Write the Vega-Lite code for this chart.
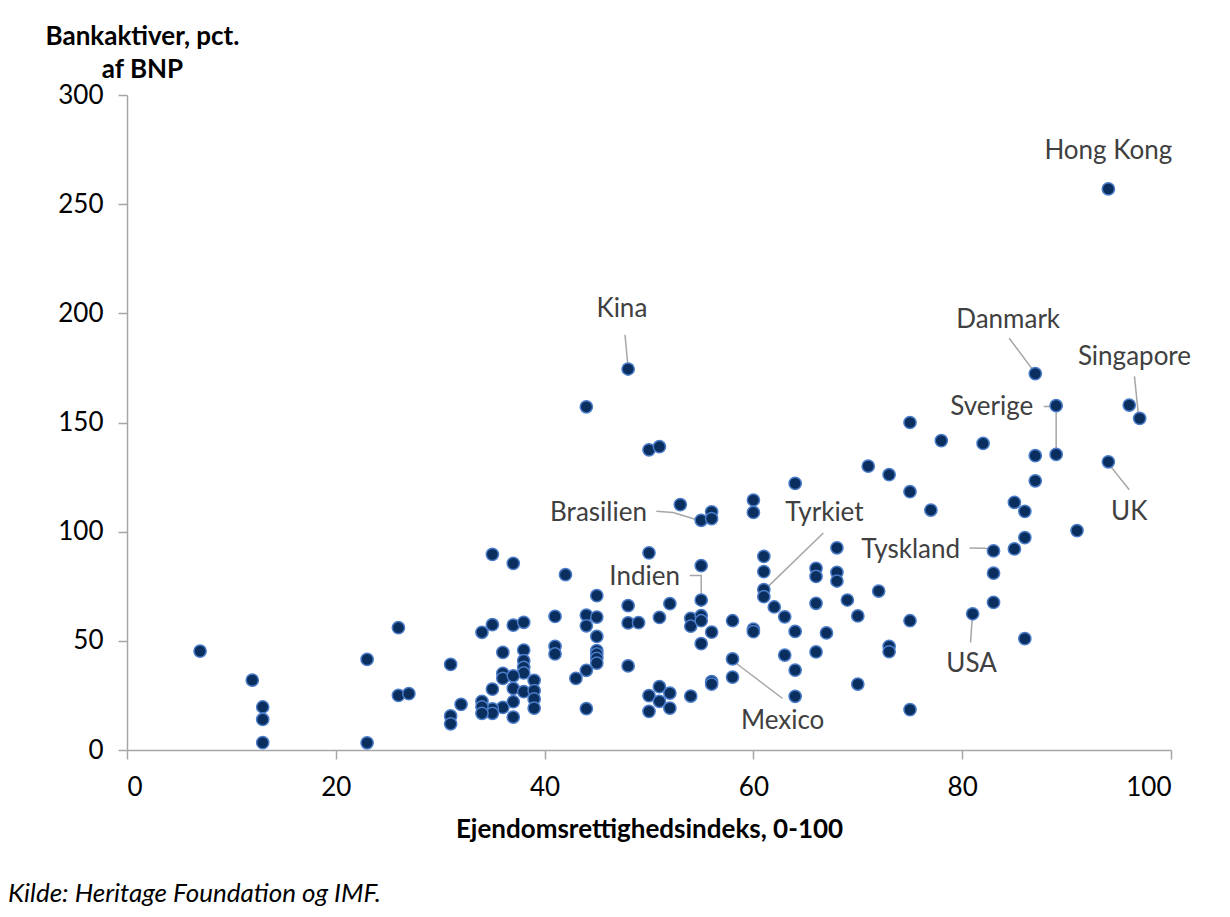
{
  "$schema": "https://vega.github.io/schema/vega-lite/v6.json",
  "width": 1044,
  "height": 655,
  "autosize": {"type": "none"},
  "padding": {"left": 127, "top": 95, "right": 59, "bottom": 167},
  "background": "white",
  "config": {
    "font": "Lato",
    "view": {"stroke": null},
    "axis": {
      "grid": false,
      "domainColor": "#a6a6a6",
      "domainWidth": 1.5,
      "tickColor": "#a6a6a6",
      "tickWidth": 1.5,
      "tickSize": 9,
      "labelFont": "Lato",
      "labelFontSize": 26,
      "labelColor": "#000000",
      "titleFont": "Lato",
      "titleFontSize": 26,
      "titleFontWeight": "bold",
      "titleColor": "#000000"
    }
  },
  "title": {
    "text": "Kilde: Heritage Foundation og IMF.",
    "orient": "bottom",
    "anchor": "start",
    "frame": "group",
    "font": "Lato",
    "fontSize": 26,
    "fontStyle": "italic",
    "fontWeight": "normal",
    "color": "#000000",
    "dx": -119,
    "offset": 39
  },
  "datasets": {
    "points": [
      {"x": 7, "y": 45.3}, {"x": 12, "y": 32}, {"x": 13, "y": 19.7}, {"x": 13, "y": 14}, {"x": 13, "y": 3.4},
      {"x": 23, "y": 41.5}, {"x": 23, "y": 3.3}, {"x": 26, "y": 56}, {"x": 26, "y": 25}, {"x": 27, "y": 25.8},
      {"x": 31, "y": 39.2}, {"x": 31, "y": 15.6}, {"x": 31, "y": 12}, {"x": 32, "y": 20.9}, {"x": 35, "y": 89.6},
      {"x": 37, "y": 85.5}, {"x": 42, "y": 80.3}, {"x": 50, "y": 90.3}, {"x": 55, "y": 84.4}, {"x": 61, "y": 88.7},
      {"x": 61, "y": 81.7}, {"x": 61, "y": 73.5}, {"x": 61, "y": 70.2}, {"x": 62, "y": 65.5}, {"x": 55, "y": 68.7},
      {"x": 45, "y": 70.7}, {"x": 48, "y": 66.1}, {"x": 52, "y": 67}, {"x": 51, "y": 60.7}, {"x": 48, "y": 58.2},
      {"x": 49, "y": 58.3}, {"x": 54, "y": 60.3}, {"x": 54, "y": 56.7}, {"x": 55, "y": 61.5}, {"x": 55, "y": 59.2},
      {"x": 56, "y": 54}, {"x": 55, "y": 48.7}, {"x": 58, "y": 59.2}, {"x": 60, "y": 55.4}, {"x": 60, "y": 54.2},
      {"x": 63, "y": 43.5}, {"x": 58, "y": 41.7}, {"x": 58, "y": 33.4}, {"x": 56, "y": 31.3}, {"x": 56, "y": 30.2},
      {"x": 54, "y": 24.7}, {"x": 51, "y": 29}, {"x": 50, "y": 24.9}, {"x": 52, "y": 26.1}, {"x": 51, "y": 22.3},
      {"x": 52, "y": 19.2}, {"x": 50, "y": 17.7}, {"x": 48, "y": 38.5}, {"x": 44, "y": 18.9}, {"x": 41, "y": 61.2},
      {"x": 41, "y": 47.5}, {"x": 41, "y": 44}, {"x": 44, "y": 61.8}, {"x": 45, "y": 60.9}, {"x": 44, "y": 56.9},
      {"x": 45, "y": 52}, {"x": 45, "y": 45.5}, {"x": 45, "y": 44}, {"x": 45, "y": 42}, {"x": 45, "y": 39.8},
      {"x": 44, "y": 36.5}, {"x": 43, "y": 32.8}, {"x": 34, "y": 53.9}, {"x": 35, "y": 57.4}, {"x": 37, "y": 57.2},
      {"x": 38, "y": 58.5}, {"x": 36, "y": 44.7}, {"x": 38, "y": 45.8}, {"x": 38, "y": 40.9}, {"x": 38, "y": 37.9},
      {"x": 38, "y": 35.3}, {"x": 36, "y": 35.1}, {"x": 36, "y": 32.8}, {"x": 37, "y": 34}, {"x": 37, "y": 28.2},
      {"x": 38, "y": 26.7}, {"x": 35, "y": 27.9}, {"x": 39, "y": 31.9}, {"x": 39, "y": 27.2}, {"x": 39, "y": 23.4},
      {"x": 39, "y": 19.2}, {"x": 37, "y": 22.1}, {"x": 36, "y": 19.5}, {"x": 35, "y": 18.8}, {"x": 35, "y": 16.8},
      {"x": 34, "y": 22.3}, {"x": 34, "y": 19.8}, {"x": 34, "y": 16.8}, {"x": 37, "y": 15.1}, {"x": 63, "y": 61},
      {"x": 64, "y": 54.3}, {"x": 64, "y": 36.6}, {"x": 64, "y": 24.6}, {"x": 66, "y": 83.2}, {"x": 66, "y": 79.5},
      {"x": 68, "y": 92.6}, {"x": 68, "y": 81.4}, {"x": 68, "y": 77.4}, {"x": 66, "y": 67.2}, {"x": 66, "y": 44.9},
      {"x": 67, "y": 53.6}, {"x": 69, "y": 68.7}, {"x": 70, "y": 61.4}, {"x": 70, "y": 30.2}, {"x": 72, "y": 72.8},
      {"x": 73, "y": 47.5}, {"x": 73, "y": 45}, {"x": 75, "y": 59.2}, {"x": 75, "y": 18.5}, {"x": 81, "y": 62.4},
      {"x": 83, "y": 91.2}, {"x": 83, "y": 81}, {"x": 83, "y": 67.6}, {"x": 85, "y": 92.1}, {"x": 86, "y": 97.3},
      {"x": 86, "y": 51}, {"x": 91, "y": 100.5}, {"x": 87, "y": 172.4}, {"x": 89, "y": 157.7}, {"x": 89, "y": 135.4},
      {"x": 96, "y": 158}, {"x": 97, "y": 151.9}, {"x": 94, "y": 132}, {"x": 87, "y": 134.8}, {"x": 87, "y": 123.3},
      {"x": 85, "y": 113.4}, {"x": 86, "y": 109.3}, {"x": 75, "y": 150}, {"x": 78, "y": 141.7}, {"x": 82, "y": 140.4},
      {"x": 71, "y": 130}, {"x": 73, "y": 126.1}, {"x": 75, "y": 118.3}, {"x": 77, "y": 109.9}, {"x": 64, "y": 122.1},
      {"x": 60, "y": 114.5}, {"x": 60, "y": 108.8}, {"x": 48, "y": 174.5}, {"x": 44, "y": 157.2}, {"x": 50, "y": 137.5},
      {"x": 51, "y": 138.9}, {"x": 53, "y": 112.4}, {"x": 55, "y": 105.2}, {"x": 56, "y": 109.1}, {"x": 56, "y": 106},
      {"x": 94, "y": 257}
    ],
    "leaders": [
      {"id": "Kina", "o": 1, "x": 47.7, "y": 190.2}, {"id": "Kina", "o": 2, "x": 48.0, "y": 175.1},
      {"id": "Danmark", "o": 1, "x": 84.5, "y": 188.6}, {"id": "Danmark", "o": 2, "x": 87.0, "y": 172.6},
      {"id": "Singapore", "o": 1, "x": 96.5, "y": 171.1}, {"id": "Singapore", "o": 2, "x": 96.9, "y": 152.5},
      {"id": "Sverige", "o": 1, "x": 87.8, "y": 157.3}, {"id": "Sverige", "o": 2, "x": 89.0, "y": 157.3}, {"id": "Sverige", "o": 3, "x": 89.0, "y": 135.1},
      {"id": "UK", "o": 1, "x": 96.0, "y": 119.2}, {"id": "UK", "o": 2, "x": 93.97, "y": 131.4},
      {"id": "Brasilien", "o": 1, "x": 50.7, "y": 109.3}, {"id": "Brasilien", "o": 2, "x": 52.3, "y": 108.8}, {"id": "Brasilien", "o": 3, "x": 54.9, "y": 105.0},
      {"id": "Tyrkiet", "o": 1, "x": 66.7, "y": 99.4}, {"id": "Tyrkiet", "o": 2, "x": 61.0, "y": 73.0},
      {"id": "Tyskland", "o": 1, "x": 80.7, "y": 92.5}, {"id": "Tyskland", "o": 2, "x": 82.2, "y": 92.4}, {"id": "Tyskland", "o": 3, "x": 83.0, "y": 91.3},
      {"id": "Indien", "o": 1, "x": 53.9, "y": 79.9}, {"id": "Indien", "o": 2, "x": 55.0, "y": 79.9}, {"id": "Indien", "o": 3, "x": 55.0, "y": 68.9},
      {"id": "USA", "o": 1, "x": 80.8, "y": 49.3}, {"id": "USA", "o": 2, "x": 80.97, "y": 61.2},
      {"id": "Mexico", "o": 1, "x": 62.8, "y": 23.6}, {"id": "Mexico", "o": 2, "x": 58.0, "y": 41.0}
    ],
    "labelsCenter": [
      {"label": "Hong Kong", "x": 94.0, "y": 274.4},
      {"label": "Kina", "x": 47.4, "y": 202.1},
      {"label": "Danmark", "x": 84.4, "y": 197.0},
      {"label": "Singapore", "x": 96.5, "y": 179.9},
      {"label": "UK", "x": 96.0, "y": 109.2},
      {"label": "Tyrkiet", "x": 66.8, "y": 108.7},
      {"label": "USA", "x": 80.9, "y": 39.4},
      {"label": "Mexico", "x": 62.8, "y": 13.5}
    ],
    "labelsRight": [
      {"label": "Sverige", "x": 86.8, "y": 156.9},
      {"label": "Brasilien", "x": 49.8, "y": 108.7},
      {"label": "Tyskland", "x": 79.8, "y": 91.4},
      {"label": "Indien", "x": 52.97, "y": 79.4}
    ]
  },
  "layer": [
    {
      "data": {"name": "leaders"},
      "mark": {"type": "line", "color": "#a6a6a6", "strokeWidth": 1.5},
      "encoding": {
        "x": {"field": "x", "type": "quantitative", "scale": {"domain": [0, 100], "nice": false},
          "axis": {"values": [0, 20, 40, 60, 80, 100], "title": "Ejendomsrettighedsindeks, 0-100", "labelPadding": 15, "titlePadding": 16}},
        "y": {"field": "y", "type": "quantitative", "scale": {"domain": [0, 300], "nice": false},
          "axis": {"values": [0, 50, 100, 150, 200, 250, 300], "title": ["Bankaktiver, pct.", "af BNP"], "labelPadding": 15,
            "titleAngle": 0, "titleAlign": "center", "titleBaseline": "top", "titleX": 15, "titleY": -72, "titleLineHeight": 33}},
        "detail": {"field": "id"},
        "order": {"field": "o"}
      }
    },
    {
      "data": {"name": "points"},
      "mark": {"type": "point", "filled": true, "shape": "circle", "size": 150, "fill": "#0a2f5f", "stroke": "#4a7cc9", "strokeWidth": 1.5, "opacity": 1, "fillOpacity": 1},
      "encoding": {
        "x": {"field": "x", "type": "quantitative"},
        "y": {"field": "y", "type": "quantitative"}
      }
    },
    {
      "data": {"name": "labelsCenter"},
      "mark": {"type": "text", "font": "Lato", "fontSize": 26, "color": "#404040", "align": "center", "baseline": "middle"},
      "encoding": {
        "x": {"field": "x", "type": "quantitative"},
        "y": {"field": "y", "type": "quantitative"},
        "text": {"field": "label"}
      }
    },
    {
      "data": {"name": "labelsRight"},
      "mark": {"type": "text", "font": "Lato", "fontSize": 26, "color": "#404040", "align": "right", "baseline": "middle"},
      "encoding": {
        "x": {"field": "x", "type": "quantitative"},
        "y": {"field": "y", "type": "quantitative"},
        "text": {"field": "label"}
      }
    }
  ]
}
